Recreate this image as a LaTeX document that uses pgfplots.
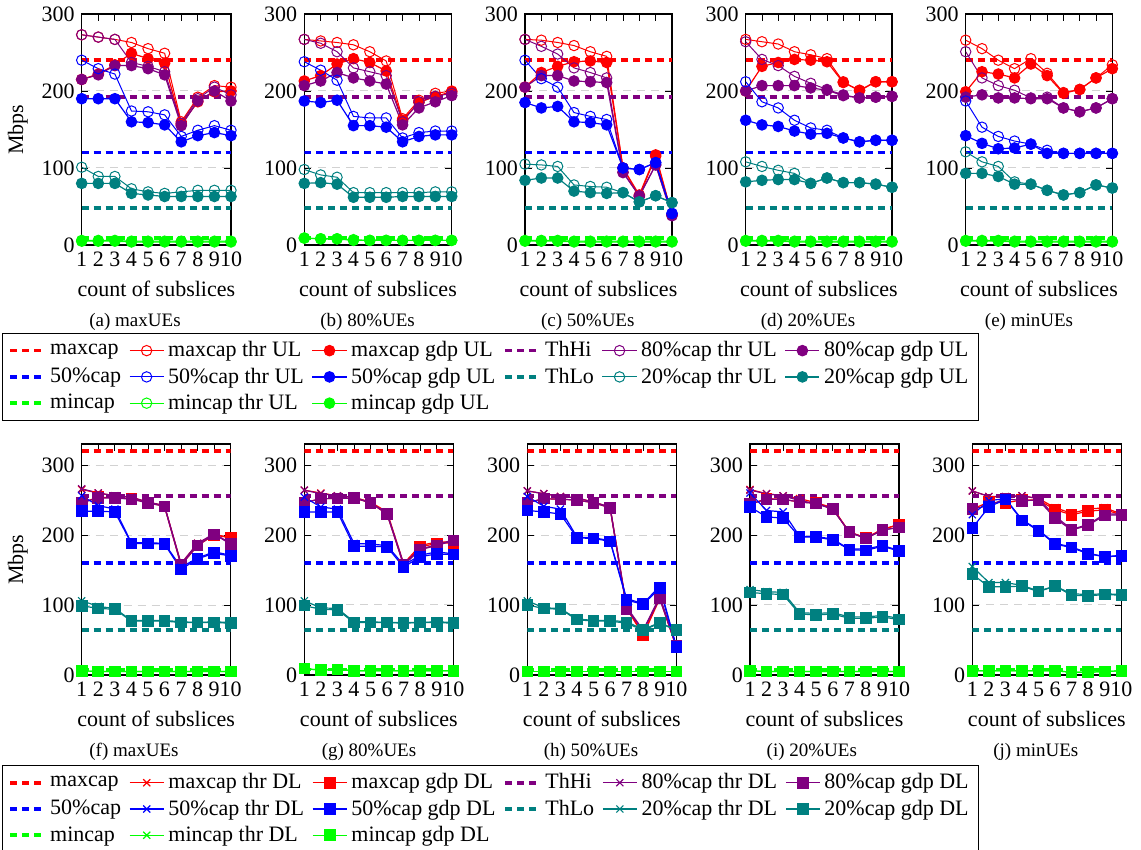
\documentclass[border=0pt]{standalone}
\usepackage{fontspec}
\setmainfont{Liberation Serif}
\usepackage{pgfplots}
\usepackage{pgfplotstable}
\pgfplotsset{compat=1.18}

\definecolor{cRed}{RGB}{255,0,0}
\definecolor{cPur}{RGB}{128,0,128}
\definecolor{cBlue}{RGB}{0,0,255}
\definecolor{cTeal}{RGB}{0,128,128}
\definecolor{cGreen}{RGB}{0,255,0}

% columns: x, thr/gdp for maxcap (r), 80%cap (p), 50%cap (b), 20%cap (t), mincap (g)
% ---------- uplink ----------
\pgfplotstableread{
x rt rg pt pg bt bg tt tg gt gg
1 273 215 273 215 240 190 101 80 6 5
2 270 222 270 221 229 190 89 80 6 5
3 267 234 267 233 222 190 89 80 6 5
4 263 249 237 233 174 160 73 67 5 4
5 255 242 232 229 173 159 69 65 5 4
6 249 236 225 221 169 156 67 63 5 4
7 160 157 158 155 141 134 69 63 5 4
8 192 186 190 187 149 142 71 63 5 4
9 207 199 205 200 155 146 71 63 5 4
10 205 200 195 187 149 142 71 63 5 4
}\tabA
\pgfplotstableread{
x rt rg pt pg bt bg tt tg gt gg
1 267 213 267 207 238 187 98 80 9 9
2 265 220 262 213 227 185 91 81 8 8
3 263 235 251 224 214 188 88 79 8 8
4 260 242 230 217 167 155 68 62 7 6
5 251 237 225 213 165 155 68 62 6 6
6 239 226 220 209 165 153 68 62 6 6
7 164 162 160 156 139 134 68 63 6 6
8 188 185 186 178 146 141 68 63 6 6
9 197 193 193 186 148 143 69 63 6 6
10 200 199 197 194 148 143 69 63 6 6
}\tabB
\pgfplotstableread{
x rt rg pt pg bt bg tt tg gt gg
1 267 205 267 205 240 185 105 84 6 5
2 266 224 258 220 216 178 104 87 6 5
3 263 232 248 220 205 180 102 87 6 5
4 259 238 230 213 172 160 78 70 5 4
5 251 239 224 212 167 159 76 68 5 4
6 245 237 217 211 163 156 75 67 5 4
7 100 100 95 94 100 100 68 68 5 4
8 63 65 63 64 98 98 56 56 5 4
9 115 117 104 104 107 107 64 64 5 4
10 39 39 39 38 41 41 55 55 5 4
}\tabC
\pgfplotstableread{
x rt rg pt pg bt bg tt tg gt gg
1 267 200 264 200 212 162 108 82 6 5
2 264 232 241 207 186 156 102 84 6 5
3 261 237 233 207 178 154 97 85 6 5
4 251 241 219 207 162 148 93 85 5 4
5 247 240 210 204 152 144 80 80 5 4
6 242 238 202 201 149 145 87 87 5 4
7 212 211 195 194 139 139 81 81 5 4
8 200 201 191 191 134 134 81 81 5 4
9 212 212 192 192 136 136 79 79 5 4
10 212 212 193 193 136 136 75 75 5 4
}\tabD
\pgfplotstableread{
x rt rg pt pg bt bg tt tg gt gg
1 266 199 251 192 187 142 121 93 6 5
2 255 225 217 195 153 132 108 93 6 5
3 240 222 207 191 141 125 102 89 6 5
4 229 217 201 191 135 126 82 79 5 4
5 242 235 191 190 131 131 79 79 5 4
6 223 220 192 190 123 119 71 71 5 4
7 198 197 178 178 119 119 65 65 5 4
8 202 202 173 173 119 119 68 68 5 4
9 217 217 178 178 119 119 78 78 5 4
10 234 229 190 190 119 119 74 74 5 4
}\tabE
% ---------- downlink ----------
\pgfplotstableread{
x rt rg pt pg bt bg tt tg gt gg
1 265 246 266 246 256 234 106 99 6 6
2 260 254 260 253 242 234 98 95 5 5
3 256 253 256 253 237 233 95 94 5 5
4 254 252 254 251 189 188 78 77 5 5
5 247 246 247 246 189 188 78 77 5 5
6 242 241 242 241 188 187 78 77 5 5
7 159 157 159 157 154 151 76 75 5 5
8 188 185 188 185 167 166 75 75 5 5
9 201 200 202 201 176 174 76 75 5 5
10 196 196 188 187 171 170 75 74 5 5
}\tabF
\pgfplotstableread{
x rt rg pt pg bt bg tt tg gt gg
1 264 246 264 246 254 233 106 99 9 9
2 260 252 259 252 240 233 96 94 7 7
3 256 252 256 252 237 233 95 93 8 8
4 254 253 254 253 188 184 76 75 6 6
5 247 246 246 246 187 184 76 75 6 6
6 233 230 231 230 185 183 75 75 6 6
7 159 157 159 157 157 154 75 74 6 6
8 185 183 180 179 171 169 75 75 6 6
9 190 188 186 185 176 173 76 75 6 6
10 190 189 193 192 173 172 75 74 6 6
}\tabG
\pgfplotstableread{
x rt rg pt pg bt bg tt tg gt gg
1 263 246 263 246 255 235 106 100 5 5
2 259 252 259 252 241 233 96 95 5 5
3 255 251 255 251 237 230 95 94 5 5
4 253 250 253 250 197 196 80 79 5 5
5 247 246 247 246 196 195 78 77 5 5
6 240 239 240 239 192 191 78 77 5 5
7 97 95 97 94 109 107 76 74 5 5
8 57 57 64 64 102 101 65 64 5 5
9 112 109 112 109 127 124 75 74 5 5
10 40 40 41 41 41 40 64 64 5 5
}\tabH
\pgfplotstableread{
x rt rg pt pg bt bg tt tg gt gg
1 265 244 264 244 260 240 122 118 6 6
2 259 252 259 251 235 226 119 116 5 5
3 256 251 256 251 233 224 118 115 5 5
4 252 247 249 247 198 197 89 87 5 5
5 246 246 245 245 198 197 88 86 5 5
6 239 237 237 237 194 193 89 87 5 5
7 204 204 204 204 180 179 83 81 5 5
8 196 196 195 195 180 178 83 81 5 5
9 208 208 207 207 185 184 85 83 5 5
10 215 215 211 211 178 177 81 79 5 5
}\tabI
\pgfplotstableread{
x rt rg pt pg bt bg tt tg gt gg
1 263 237 263 237 229 210 155 144 6 6
2 255 247 255 242 249 240 132 126 6 6
3 254 246 255 252 252 251 132 126 6 6
4 256 250 256 249 222 221 128 127 6 6
5 252 250 252 250 207 206 120 119 6 6
6 239 236 227 224 188 187 127 127 6 6
7 231 229 208 207 183 182 116 114 4 4
8 237 234 215 214 174 173 115 113 4 4
9 239 236 230 228 169 169 116 115 5 5
10 230 229 230 229 171 170 115 114 6 6
}\tabJ

\newcommand{\labfont}{\fontsize{11}{13.5}\selectfont}

\pgfplotsset{
  capline/.style={color=#1, line width=1.8pt, dash pattern=on 3.5pt off 2.5pt, mark=none},
  thrul/.style={color=#1, line width=0.5pt, mark=o, mark size=2.6pt, mark options={solid}},
  gdpul/.style={color=#1, line width=0.6pt, mark=*, mark size=2.6pt, mark options={solid}},
  thrdl/.style={color=#1, line width=0.6pt, mark=x, mark size=2.5pt, mark options={solid}},
  gdpdl/.style={color=#1, line width=0.6pt, mark=square*, mark size=2.6pt, mark options={solid}},
  panel/.style={
    scale only axis, height=115.5pt,
    xmin=1, xmax=10, ymin=0,
    xtick={1,2,...,10}, ytick={0,100,200,300},
    ymajorgrids,
    grid style={gray!35, line width=0.5pt, dash pattern=on 4pt off 3pt},
    major tick length=3.3pt,
    tick style={black, line width=0.4pt},
    axis line style={line width=0.6pt},
    xlabel={count of subslices},
    label style={font=\labfont},
    tick label style={font=\labfont},
    /pgf/number format/assume math mode=true,
  },
  legbox/.style={
    legend columns=6, legend cell align=left,
    legend style={draw=black, line width=0.5pt, anchor=north west,
      font=\labfont,
      /tikz/every even column/.append style={column sep=2pt}},
  },
}

% #1 table, #2..#6 levels of maxcap, ThHi, 50%cap, ThLo, mincap
\newcommand{\ulplots}[6]{%
  \addplot[capline=cRed] coordinates {(1,#2) (10,#2)};
  \addplot[thrul=cRed] table[x=x,y=rt] {#1};
  \addplot[gdpul=cRed] table[x=x,y=rg] {#1};
  \addplot[capline=cPur] coordinates {(1,#3) (10,#3)};
  \addplot[thrul=cPur] table[x=x,y=pt] {#1};
  \addplot[gdpul=cPur] table[x=x,y=pg] {#1};
  \addplot[capline=cBlue] coordinates {(1,#4) (10,#4)};
  \addplot[thrul=cBlue] table[x=x,y=bt] {#1};
  \addplot[gdpul=cBlue] table[x=x,y=bg] {#1};
  \addplot[capline=cTeal] coordinates {(1,#5) (10,#5)};
  \addplot[thrul=cTeal] table[x=x,y=tt] {#1};
  \addplot[gdpul=cTeal] table[x=x,y=tg] {#1};
  \addplot[capline=cGreen] coordinates {(1,#6) (10,#6)};
  \addplot[thrul=cGreen] table[x=x,y=gt] {#1};
  \addplot[gdpul=cGreen] table[x=x,y=gg] {#1};
}
\newcommand{\dlplots}[6]{%
  \addplot[capline=cRed] coordinates {(1,#2) (10,#2)};
  \addplot[thrdl=cRed] table[x=x,y=rt] {#1};
  \addplot[gdpdl=cRed] table[x=x,y=rg] {#1};
  \addplot[capline=cPur] coordinates {(1,#3) (10,#3)};
  \addplot[thrdl=cPur] table[x=x,y=pt] {#1};
  \addplot[gdpdl=cPur] table[x=x,y=pg] {#1};
  \addplot[capline=cBlue] coordinates {(1,#4) (10,#4)};
  \addplot[thrdl=cBlue] table[x=x,y=bt] {#1};
  \addplot[gdpdl=cBlue] table[x=x,y=bg] {#1};
  \addplot[capline=cTeal] coordinates {(1,#5) (10,#5)};
  \addplot[thrdl=cTeal] table[x=x,y=tt] {#1};
  \addplot[gdpdl=cTeal] table[x=x,y=tg] {#1};
  \addplot[capline=cGreen] coordinates {(1,#6) (10,#6)};
  \addplot[thrdl=cGreen] table[x=x,y=gt] {#1};
  \addplot[gdpdl=cGreen] table[x=x,y=gg] {#1};
}

\begin{document}
\begin{tikzpicture}
% ---------------- uplink row ----------------
\begin{axis}[panel, at={(40.85pt,-7pt)}, anchor=north west, width=74.65pt, ymax=300,
  ylabel={Mbps}, legbox,
  legend style={at={(-0.534,-0.381)}},
  legend entries={maxcap, maxcap thr UL, maxcap gdp UL, ThHi, 80\%cap thr UL, 80\%cap gdp UL,
    50\%cap, 50\%cap thr UL, 50\%cap gdp UL, ThLo, 20\%cap thr UL, 20\%cap gdp UL,
    mincap, mincap thr UL, mincap gdp UL}]
\ulplots{\tabA}{240}{192}{120}{48}{9}
\end{axis}
\begin{axis}[panel, at={(152.15pt,-7pt)}, anchor=north west, width=73.7pt, ymax=300]
\ulplots{\tabB}{240}{192}{120}{48}{9}
\end{axis}
\begin{axis}[panel, at={(262.5pt,-7pt)}, anchor=north west, width=73.5pt, ymax=300]
\ulplots{\tabC}{240}{192}{120}{48}{9}
\end{axis}
\begin{axis}[panel, at={(372.85pt,-7pt)}, anchor=north west, width=73.15pt, ymax=300]
\ulplots{\tabD}{240}{192}{120}{48}{9}
\end{axis}
\begin{axis}[panel, at={(482.85pt,-7pt)}, anchor=north west, width=73.3pt, ymax=300]
\ulplots{\tabE}{240}{192}{120}{48}{9}
\end{axis}
% ---------------- downlink row ----------------
\begin{axis}[panel, at={(40.85pt,-222pt)}, anchor=north west, width=74.5pt, ymax=330,
  ylabel={Mbps}, legbox,
  legend style={at={(-0.535,-0.390)}},
  legend entries={maxcap, maxcap thr DL, maxcap gdp DL, ThHi, 80\%cap thr DL, 80\%cap gdp DL,
    50\%cap, 50\%cap thr DL, 50\%cap gdp DL, ThLo, 20\%cap thr DL, 20\%cap gdp DL,
    mincap, mincap thr DL, mincap gdp DL}]
\dlplots{\tabF}{320}{256}{160}{64}{8}
\end{axis}
\begin{axis}[panel, at={(152.15pt,-222pt)}, anchor=north west, width=74.5pt, ymax=330]
\dlplots{\tabG}{320}{256}{160}{64}{8}
\end{axis}
\begin{axis}[panel, at={(263.65pt,-222pt)}, anchor=north west, width=74.5pt, ymax=330]
\dlplots{\tabH}{320}{256}{160}{64}{8}
\end{axis}
\begin{axis}[panel, at={(375pt,-222pt)}, anchor=north west, width=74.5pt, ymax=330]
\dlplots{\tabI}{320}{256}{160}{64}{8}
\end{axis}
\begin{axis}[panel, at={(486.15pt,-222pt)}, anchor=north west, width=74.5pt, ymax=330]
\dlplots{\tabJ}{320}{256}{160}{64}{8}
\end{axis}
% sub-figure captions
\begin{scope}[every node/.style={font=\fontsize{9.5}{11.5}\selectfont}]
\node at (67.5pt,-161pt) {(a) maxUEs};
\node at (183.8pt,-161pt) {(b) 80\%UEs};
\node at (293.9pt,-161pt) {(c) 50\%UEs};
\node at (404pt,-161pt) {(d) 20\%UEs};
\node at (514.5pt,-161pt) {(e) minUEs};
\node at (67pt,-375.9pt) {(f) maxUEs};
\node at (184.5pt,-375.9pt) {(g) 80\%UEs};
\node at (295.5pt,-375.9pt) {(h) 50\%UEs};
\node at (405.9pt,-375.9pt) {(i) 20\%UEs};
\node at (517.9pt,-375.9pt) {(j) minUEs};
\end{scope}
\pgfresetboundingbox
\path[use as bounding box] (0,0) rectangle (570.5pt,-425pt);
\end{tikzpicture}
\end{document}
